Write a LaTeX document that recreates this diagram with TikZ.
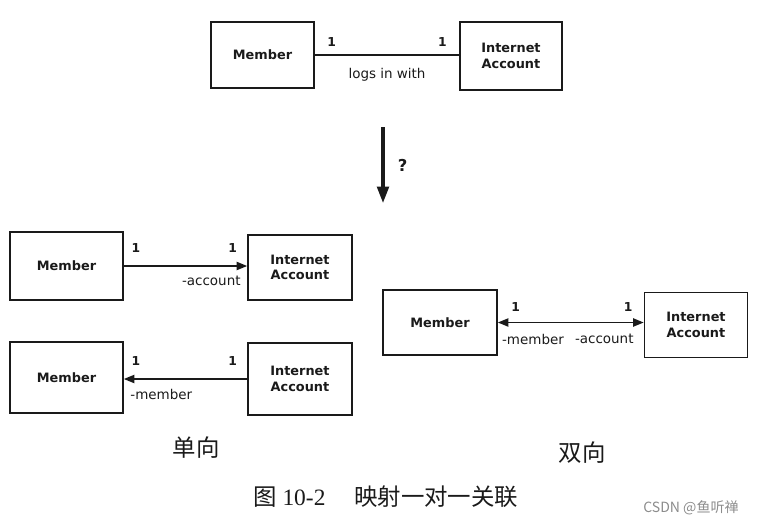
\documentclass[tikz,border=0pt]{standalone}
\usepackage{fontspec}
\setsansfont{DejaVu Sans}
\newfontfamily\cjk{Noto Sans CJK SC}
\newfontfamily\capnum{Liberation Serif}
\usetikzlibrary{arrows.meta,positioning}
\definecolor{inkgray}{HTML}{1A1A1A}
\definecolor{markgray}{HTML}{8C8C8C}

\begin{document}
\begin{tikzpicture}[x=0.03cm,y=-0.03cm,>={Triangle[length=9pt,width=7pt]},
cls/.style={draw=inkgray,line width=1.4pt,align=center,font=\sffamily\bfseries\fontsize{11}{13}\selectfont,text=inkgray},
assoc/.style={draw=inkgray,line width=1.3pt},
mult/.style={font=\sffamily\bfseries\fontsize{10.5}{12}\selectfont,inner sep=1pt,text=inkgray},
role/.style={font=\sffamily\fontsize{11.5}{13}\selectfont,inner sep=1pt,text=inkgray},
captext/.style={font=\cjk\fontsize{20}{24}\selectfont,text=inkgray}]
\useasboundingbox (0,0) rectangle (758,525);
\node[cls,minimum width=3.09cm,minimum height=1.98cm] (mem) at (262.5,55) {Member};
\node[cls,minimum width=3.06cm,minimum height=2.04cm] (acc) at (511,56) {Internet\\Account};
\draw[assoc] (mem.east) -- (mem.east -| acc.west)
node[pos=0,mult,above right=6pt and 9pt] {1}
node[pos=1,mult,above left=6pt and 9pt] {1}
node[midway,role,below=10pt] {logs in with};
\coordinate (qtop) at (383,127);
\coordinate (qbot) at (383,203);
\draw[->,draw=inkgray,line width=2.6pt,>={Triangle[length=14pt,width=10pt]}] (qtop) -- (qbot)
node[midway,right=8pt,text=inkgray,font=\sffamily\bfseries\fontsize{14}{16}\selectfont] {?};
\node[cls,minimum width=3.39cm,minimum height=2.04cm] (um) at (66.5,266) {Member};
\node[cls,minimum width=3.12cm,minimum height=1.95cm] (ua) at (300,267.5) {Internet\\Account};
\draw[assoc,->] (um.east) -- (um.east -| ua.west)
node[pos=0,mult,above right=10pt and 5pt] {1}
node[pos=1,mult,above left=10pt and 7pt] {1}
node[pos=1,role,below left=7pt and 4pt] {-account};
\node[cls,minimum width=3.39cm,minimum height=2.13cm] (vm) at (66.5,377.5) {Member};
\node[cls,minimum width=3.12cm,minimum height=2.16cm] (va) at (300,379) {Internet\\Account};
\draw[assoc,->] (va.west) -- (va.west -| vm.east)
node[pos=0,mult,above left=10pt and 7pt] {1}
node[pos=1,mult,above right=10pt and 5pt] {1}
node[pos=1,role,below right=7pt and 4pt] {-member};
\node[cls,minimum width=3.42cm,minimum height=1.95cm] (bm) at (440,322.5) {Member};
\node[cls,minimum width=3.09cm,minimum height=1.95cm] (ba) at (696,325) {Internet\\Account};
\draw[assoc,<->] (bm.east) -- (bm.east -| ba.west)
node[pos=0,mult,above right=8pt and 10pt] {1}
node[pos=1,mult,above left=8pt and 8pt] {1}
node[pos=0,role,below right=8pt and 2pt] {-member}
node[pos=1,role,below left=8pt and 7pt] {-account};
\node[captext] (uni) at (196,448) {单向};
\node[captext] (bi) at (582,453) {双向};
\node[captext] (fig) at (386,497) {图\ {\capnum 10-2}\quad\ 映射一对一关联};
\node[font=\cjk\fontsize{12}{14}\selectfont,text=markgray] (wm) at (691,508) {CSDN @鱼听禅};
\end{tikzpicture}
\end{document}
